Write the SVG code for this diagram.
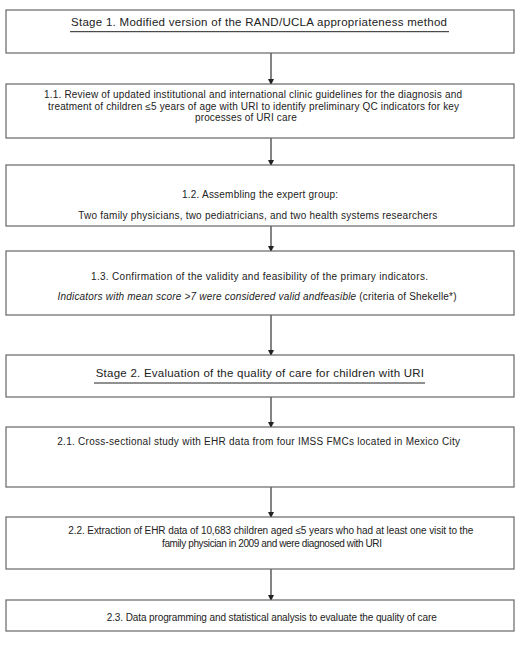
<svg xmlns="http://www.w3.org/2000/svg" width="531" height="648" viewBox="0 0 531 648">
<style>
.box{fill:#fff;stroke:#666;stroke-width:1.2}
.t{font-family:"Liberation Sans",Arial,sans-serif;font-size:10px;fill:#222}
.h{font-family:"Liberation Sans",Arial,sans-serif;font-size:11.5px;fill:#222}
.u{stroke:#222;stroke-width:1}
.c{stroke:#333;stroke-width:1.2;fill:none;marker-end:url(#ah)}
</style>
<defs>
<marker id="ah" markerWidth="6" markerHeight="6" refX="5" refY="3" orient="auto" markerUnits="userSpaceOnUse">
<path d="M0,0 L6,3 L0,6 z" fill="#222"/>
</marker>
</defs>
<rect width="531" height="648" fill="#fff"/>
<g id="connectors">
<line class="c" x1="271" y1="53" x2="271" y2="84"/>
<line class="c" x1="271" y1="138" x2="271" y2="165"/>
<line class="c" x1="271" y1="226" x2="271" y2="251"/>
<line class="c" x1="271" y1="315" x2="271" y2="355"/>
<line class="c" x1="271" y1="397" x2="271" y2="427"/>
<line class="c" x1="271" y1="487" x2="271" y2="517"/>
<line class="c" x1="271" y1="569" x2="271" y2="600"/>
</g>
<g id="stage1">
<rect class="box" x="6" y="10" width="508" height="43"/>
<text class="h" x="71" y="25.5" textLength="376" lengthAdjust="spacing">Stage 1. Modified version of the RAND/UCLA appropriateness method</text>
<line class="u" x1="70" y1="31.7" x2="449" y2="31.7"/>
</g>
<g id="step1_1">
<rect class="box" x="6" y="84" width="508" height="54"/>
<text class="t" x="44" y="98" textLength="418" lengthAdjust="spacing">1.1. Review of updated institutional and international clinic guidelines for the diagnosis and</text>
<text class="t" x="48" y="110" textLength="411" lengthAdjust="spacing">treatment of children ≤5 years of age with URI to identify preliminary QC indicators for key</text>
<text class="t" x="195" y="121" textLength="101.7" lengthAdjust="spacing">processes of URI care</text>
</g>
<g id="step1_2">
<rect class="box" x="6" y="165" width="508" height="61" stroke-width="1.5"/>
<text class="t" x="182" y="198" textLength="156" lengthAdjust="spacing">1.2. Assembling the expert group:</text>
<text class="t" x="78.3" y="219" textLength="359" lengthAdjust="spacing">Two family physicians, two pediatricians, and two health systems researchers</text>
</g>
<g id="step1_3">
<rect class="box" x="6" y="251" width="508" height="64"/>
<text class="t" x="91" y="280" textLength="337" lengthAdjust="spacing">1.3. Confirmation of the validity and feasibility of the primary indicators.</text>
<text class="t" x="57.5" y="300" textLength="399" lengthAdjust="spacing"><tspan font-style="italic">Indicators with mean score &gt;7 were considered valid andfeasible</tspan> (criteria of Shekelle*)</text>
</g>
<g id="stage2">
<rect class="box" x="6" y="355" width="508" height="42"/>
<text class="h" x="95.7" y="377" textLength="328.3" lengthAdjust="spacing">Stage 2. Evaluation of the quality of care for children with URI</text>
<line class="u" x1="94" y1="383" x2="425" y2="383"/>
</g>
<g id="step2_1">
<rect class="box" x="6" y="427" width="508" height="60"/>
<text class="t" x="57.3" y="445" textLength="402.7" lengthAdjust="spacing">2.1. Cross-sectional study with EHR data from four IMSS FMCs located in Mexico City</text>
</g>
<g id="step2_2">
<rect class="box" x="6" y="517" width="508" height="52"/>
<text class="t" x="68.3" y="534" textLength="405" lengthAdjust="spacing">2.2. Extraction of EHR data of 10,683 children aged ≤5 years who had at least one visit to the</text>
<text class="t" x="162" y="547" textLength="220" lengthAdjust="spacing">family physician in 2009 and were diagnosed with URI</text>
</g>
<g id="step2_3">
<rect class="box" x="6" y="600" width="508" height="31"/>
<text class="t" x="106.7" y="621" textLength="330" lengthAdjust="spacing">2.3. Data programming and statistical analysis to evaluate the quality of care</text>
</g>
</svg>
